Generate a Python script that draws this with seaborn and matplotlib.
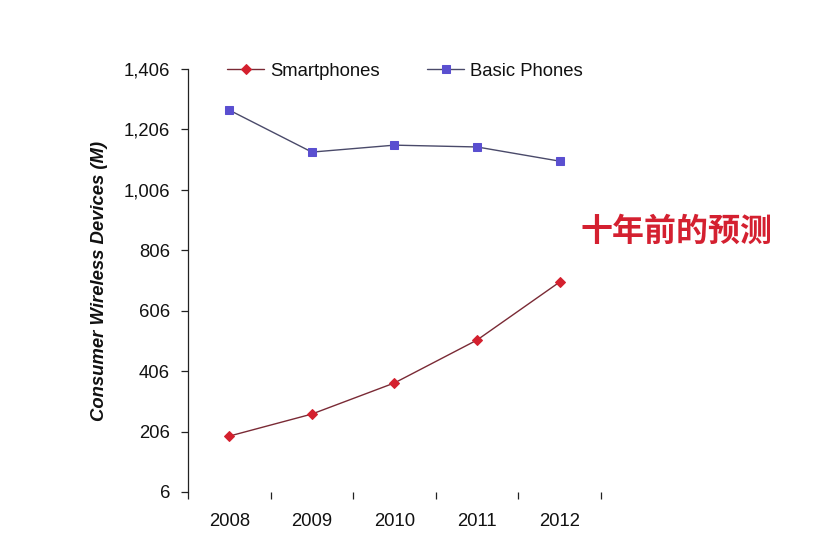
import numpy as np
import pandas as pd
import matplotlib
matplotlib.use('Agg')
import matplotlib.pyplot as plt
import seaborn as sns

# -----------------------------
# Data
# -----------------------------
years = ['2008', '2009', '2010', '2011', '2012']
smartphones = [191, 264, 367, 509, 701]
basic_phones = [1270, 1131, 1154, 1148, 1101]
y_ticks = [6, 206, 406, 606, 806, 1006, 1206, 1406]

df = pd.DataFrame({
    'x': list(range(len(years))) * 2,
    'value': smartphones + basic_phones,
    'series': ['Smartphones'] * len(years) + ['Basic Phones'] * len(years),
})

sns.set_theme(style='white')
plt.rcParams['font.family'] = ['Liberation Sans', 'DejaVu Sans']
plt.rcParams['text.color'] = '#111111'
plt.rcParams['xtick.color'] = '#111111'
plt.rcParams['ytick.color'] = '#111111'
plt.rcParams['axes.labelcolor'] = '#111111'

fig = plt.figure(figsize=(8.37, 5.57), dpi=100)
ax = fig.add_axes([0.2246, 0.1167, 0.4934, 0.7594])

styles = {
    'Smartphones': dict(marker='D', color='#7a2a35', mfc='#d4202e', mec='#d4202e', ms=5.5),
    'Basic Phones': dict(marker='s', color='#4a4a6a', mfc='#5a4fd0', mec='#5a4fd0', ms=6),
}
for name, st in styles.items():
    sub = df[df['series'] == name]
    sns.lineplot(data=sub, x='x', y='value', ax=ax, label=name,
                 marker=st['marker'], color=st['color'],
                 markerfacecolor=st['mfc'], markeredgecolor=st['mec'],
                 markersize=st['ms'], linewidth=1.0)

ax.set_xlim(-0.5, len(years) - 0.5)
ax.set_ylim(y_ticks[0], y_ticks[-1])
ax.set_yticks(y_ticks)
ax.set_yticklabels([f'{v:,}' for v in y_ticks], fontsize=13.3)

# category labels at centres, tick marks at boundaries (Excel style)
ax.set_xticks(np.arange(len(years)))
ax.set_xticklabels(years, fontsize=13.3)
ax.set_xticks(np.arange(len(years) + 1) - 0.5, minor=True)
ax.tick_params(axis='x', which='major', length=0, pad=15)
ax.tick_params(axis='x', which='minor', length=5, width=0.9, color='#222222', direction='out', bottom=True)
ax.tick_params(axis='y', length=5, width=0.9, color='#222222', direction='out', left=True, pad=8)

for s in ['top', 'right', 'bottom']:
    ax.spines[s].set_visible(False)
ax.spines['left'].set_color('#222222')
ax.spines['left'].set_linewidth(0.9)

ax.set_xlabel('')
ax.set_ylabel('Consumer Wireless Devices (M)', fontsize=13.3, fontweight='bold',
              fontstyle='italic', labelpad=11)

ax.legend(loc='lower left', bbox_to_anchor=(0.055, 0.935), ncol=2, frameon=False,
          fontsize=13.3, handlelength=2.0, columnspacing=2.6, handletextpad=0.3)

fig.text(0.693, 0.583, '十年前的预测', color='#d42030', fontsize=23,
         family=['Noto Sans CJK SC', 'DejaVu Sans'], fontweight='bold',
         va='center', ha='left')

fig.savefig('out.png', dpi=100, facecolor='white')
